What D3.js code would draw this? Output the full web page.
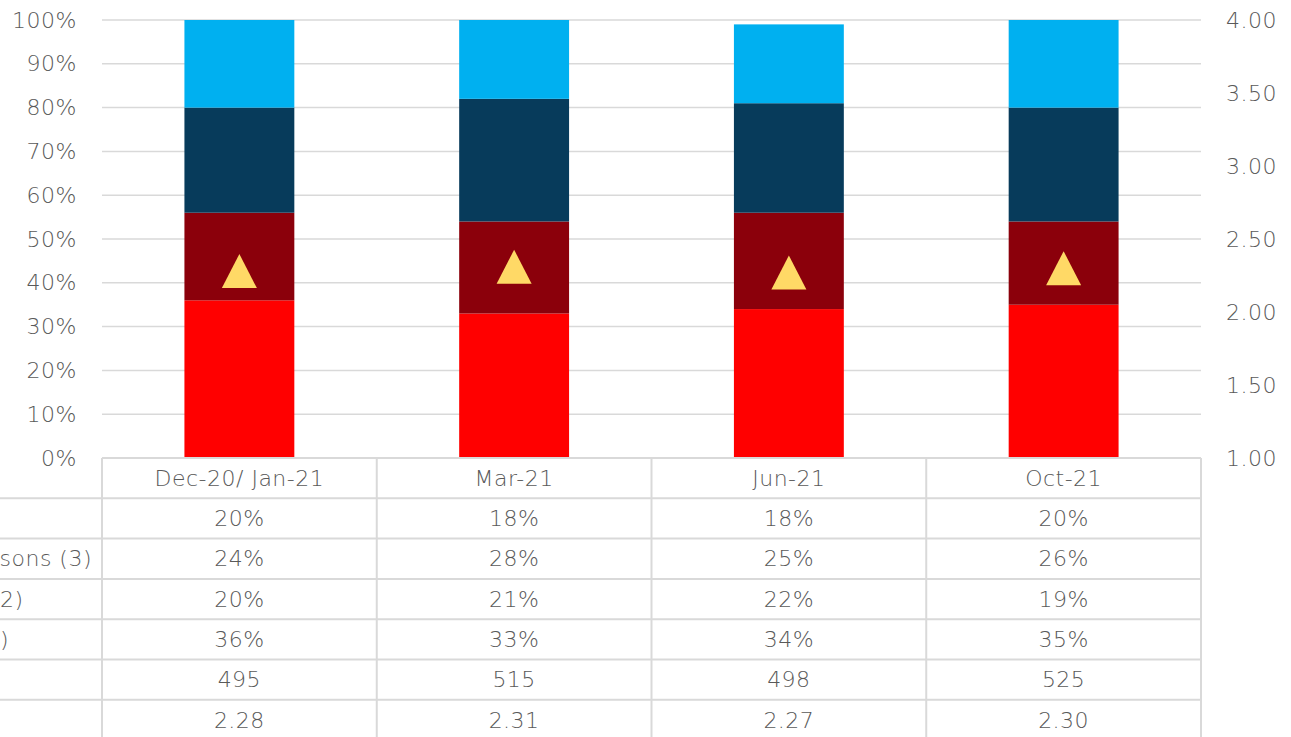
<!DOCTYPE html>
<html>
<head>
<meta charset="utf-8">
<script src="https://cdn.jsdelivr.net/npm/d3@7/dist/d3.min.js"></script>
<style>
  html, body { margin: 0; padding: 0; background: #fff; }
  svg { display: block; font-family: "Century Gothic", "URW Gothic", "DejaVu Sans", sans-serif; font-weight: 200; letter-spacing: 0.5px; }
</style>
</head>
<body>
<svg id="chart" width="1291" height="737"></svg>
<script>
// Survey waves
const categories = ["Dec-20/ Jan-21", "Mar-21", "Jun-21", "Oct-21"];

// Share of respondents per group (stacked bottom to top)
const groupA = [0.36, 0.33, 0.34, 0.35];   // red, bottom
const groupB = [0.20, 0.21, 0.22, 0.19];   // dark red
const groupC = [0.24, 0.28, 0.25, 0.26];   // navy
const groupD = [0.20, 0.18, 0.18, 0.20];   // light blue, top

// Sample size and mean score (right axis)
const sampleSize = [495, 515, 498, 525];
const meanScore = [2.28, 2.31, 2.27, 2.30];

// Axis ticks
const leftTicks = [0, 0.1, 0.2, 0.3, 0.4, 0.5, 0.6, 0.7, 0.8, 0.9, 1.0];
const rightTicks = [1.0, 1.5, 2.0, 2.5, 3.0, 3.5, 4.0];

// Row label fragments shown at the left edge of the data table
const rowLabels = ["", "sons (3)", "2)", ")", "", ""];

const W = 1291, H = 737;
const plot = { left: 102, right: 1201, top: 20, bottom: 458 };
const rowH = 40.3;
const gridColor = "#d9d9d9";
const textColor = "#595959";
const fontSize = 22;

const svg = d3.select("#chart");

const x = d3.scaleBand().domain(categories).range([plot.left, plot.right]).padding(0);
const y = d3.scaleLinear().domain([0, 1]).range([plot.bottom, plot.top]);
const y2 = d3.scaleLinear().domain([1, 4]).range([plot.bottom, plot.top]);

// Horizontal gridlines
svg.append("g")
  .selectAll("line")
  .data(leftTicks.slice(1))
  .join("line")
  .attr("x1", plot.left).attr("x2", plot.right)
  .attr("y1", d => y(d)).attr("y2", d => y(d))
  .attr("stroke", gridColor).attr("stroke-width", 1.5);

// Left axis labels
const leftAxis = d3.axisLeft(y).tickValues(leftTicks).tickFormat(d3.format(".0%")).tickSize(0).tickPadding(0);
const gl = svg.append("g").attr("transform", `translate(${77},0)`).call(leftAxis)
  .attr("font-family", null).attr("font-size", null);
gl.select(".domain").remove();
gl.selectAll("text").attr("font-size", fontSize).attr("fill", textColor);

// Right axis labels
const rightAxis = d3.axisRight(y2).tickValues(rightTicks).tickFormat(d3.format(".2f")).tickSize(0).tickPadding(0);
const gr = svg.append("g").attr("transform", `translate(${1226},0)`).call(rightAxis)
  .attr("font-family", null).attr("font-size", null);
gr.select(".domain").remove();
gr.selectAll("text").attr("font-size", fontSize).attr("fill", textColor);

// Stacked bars
const seriesDefs = [
  { key: "a", values: groupA, color: "#ff0000" },
  { key: "b", values: groupB, color: "#8b000b" },
  { key: "c", values: groupC, color: "#073b5b" },
  { key: "d", values: groupD, color: "#00b0f0" }
];
const rows = categories.map((c, i) => {
  const r = { cat: c };
  seriesDefs.forEach(s => r[s.key] = s.values[i]);
  return r;
});
const stack = d3.stack().keys(seriesDefs.map(s => s.key));
const stacked = stack(rows);

const barW = x.bandwidth() * 0.4;
svg.append("g")
  .selectAll("g")
  .data(stacked)
  .join("g")
  .attr("fill", (d, i) => seriesDefs[i].color)
  .selectAll("rect")
  .data(d => d)
  .join("rect")
  .attr("x", d => x(d.data.cat) + (x.bandwidth() - barW) / 2)
  .attr("width", barW)
  .attr("y", d => y(d[1]))
  .attr("height", d => y(d[0]) - y(d[1]));

// Mean score markers (triangles on the right axis scale)
const triW = 35, triH = 34;
svg.append("g")
  .selectAll("path")
  .data(meanScore)
  .join("path")
  .attr("transform", (d, i) => `translate(${x(categories[i]) + x.bandwidth() / 2},${y2(d)})`)
  .attr("d", () => {
    const p = d3.path();
    p.moveTo(0, -triH / 2);
    p.lineTo(triW / 2, triH / 2);
    p.lineTo(-triW / 2, triH / 2);
    p.closePath();
    return p.toString();
  })
  .attr("fill", "#ffd966");

// Data table
const table = svg.append("g");
const tableTop = plot.bottom;
const valueRows = [
  groupD.map(d3.format(".0%")),
  groupC.map(d3.format(".0%")),
  groupB.map(d3.format(".0%")),
  groupA.map(d3.format(".0%")),
  sampleSize.map(String),
  meanScore.map(d3.format(".2f"))
];

// header top border
table.append("line")
  .attr("x1", plot.left).attr("x2", plot.right)
  .attr("y1", tableTop).attr("y2", tableTop)
  .attr("stroke", gridColor).attr("stroke-width", 2);

// row separators (extend across the label column)
for (let r = 1; r <= valueRows.length; r++) {
  table.append("line")
    .attr("x1", 0).attr("x2", plot.right)
    .attr("y1", tableTop + r * rowH).attr("y2", tableTop + r * rowH)
    .attr("stroke", gridColor).attr("stroke-width", 2);
}

// column separators
const colEdges = categories.map(c => x(c)).concat([plot.right]);
table.selectAll("line.col")
  .data(colEdges)
  .join("line")
  .attr("class", "col")
  .attr("x1", d => d).attr("x2", d => d)
  .attr("y1", tableTop).attr("y2", H)
  .attr("stroke", gridColor).attr("stroke-width", 2);

// header texts
table.selectAll("text.head")
  .data(categories)
  .join("text")
  .attr("class", "head")
  .attr("x", d => x(d) + x.bandwidth() / 2)
  .attr("y", tableTop + rowH / 2)
  .attr("dy", "0.35em")
  .attr("text-anchor", "middle")
  .attr("font-size", fontSize)
  .attr("fill", textColor)
  .text(d => d);

// value cells
valueRows.forEach((vals, r) => {
  table.selectAll(null)
    .data(vals)
    .join("text")
    .attr("x", (d, i) => x(categories[i]) + x.bandwidth() / 2)
    .attr("y", tableTop + (r + 1.5) * rowH)
    .attr("dy", "0.35em")
    .attr("text-anchor", "middle")
    .attr("font-size", fontSize)
    .attr("fill", textColor)
    .text(d => d);
});

// row label fragments at the left edge
const labelPos = [null, { x: 92, anchor: "end" }, { x: 0, anchor: "start" }, { x: 0, anchor: "start" }, null, null];
rowLabels.forEach((t, r) => {
  if (!t) return;
  table.append("text")
    .attr("x", labelPos[r].x)
    .attr("y", tableTop + (r + 1.5) * rowH)
    .attr("dy", "0.35em")
    .attr("text-anchor", labelPos[r].anchor)
    .attr("font-size", fontSize)
    .attr("fill", textColor)
    .text(t);
});
</script>
</body>
</html>
